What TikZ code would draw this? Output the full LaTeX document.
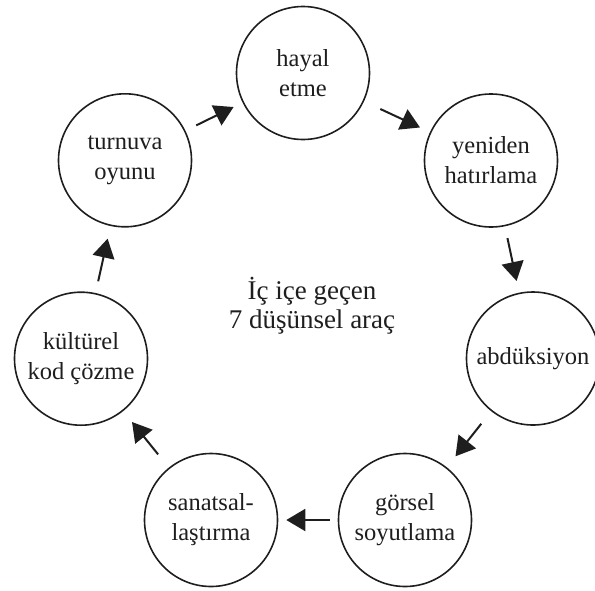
\documentclass[tikz,border=0pt]{standalone}
\usepackage{fontspec}
\setmainfont{Liberation Serif}
\usetikzlibrary{arrows.meta}
\definecolor{ink}{HTML}{1E1E1E}
\begin{document}
\begin{tikzpicture}[x=1pt, y=-1pt,
  tool/.style={circle, draw=ink, line width=1.6pt, minimum size=133pt,
    inner sep=0pt, align=center, text=ink, font=\fontsize{24.5}{30}\selectfont},
  flow/.style={-{Triangle[length=19pt,width=22pt]}, line width=2pt, draw=ink}]
\useasboundingbox (0,0) rectangle (595,590);

% the seven tools, clockwise from the top
\node[tool] (A) at (303,73)    {hayal\\etme};
\node[tool] (B) at (491,160.5) {yeniden\\hatırlama};
\node[tool] (C) at (533,358.5) {abdüksiyon};
\node[tool] (D) at (405,520)   {görsel\\soyutlama};
\node[tool] (E) at (211,520)   {sanatsal-\\laştırma};
\node[tool] (F) at (81,358.7)  {kültürel\\kod çözme};
\node[tool] (G) at (125,160.3) {turnuva\\oyunu};

% caption in the middle of the ring
\node[align=center, text=ink, font=\fontsize{27}{29}\selectfont] (T) at (312,306)
  {İç içe geçen\\7 düşünsel araç};

% the cycle
\draw[flow, shorten <=12pt, shorten >=10pt] (G) -- (A);
\draw[flow, shorten <=18pt, shorten >=11pt] (A) -- (B);
\draw[flow, shorten <=12pt, shorten >=12pt] (B) -- (C);
\draw[flow, shorten <=16pt, shorten >=14pt] (C) -- (D);
\draw[flow, shorten <=8pt,  shorten >=8pt]  (D) -- (E);
\draw[flow, shorten <=17pt, shorten >=14pt] (E) -- (F);
\draw[flow, shorten <=12pt, shorten >=13pt] (F) -- (G);
\end{tikzpicture}
\end{document}
